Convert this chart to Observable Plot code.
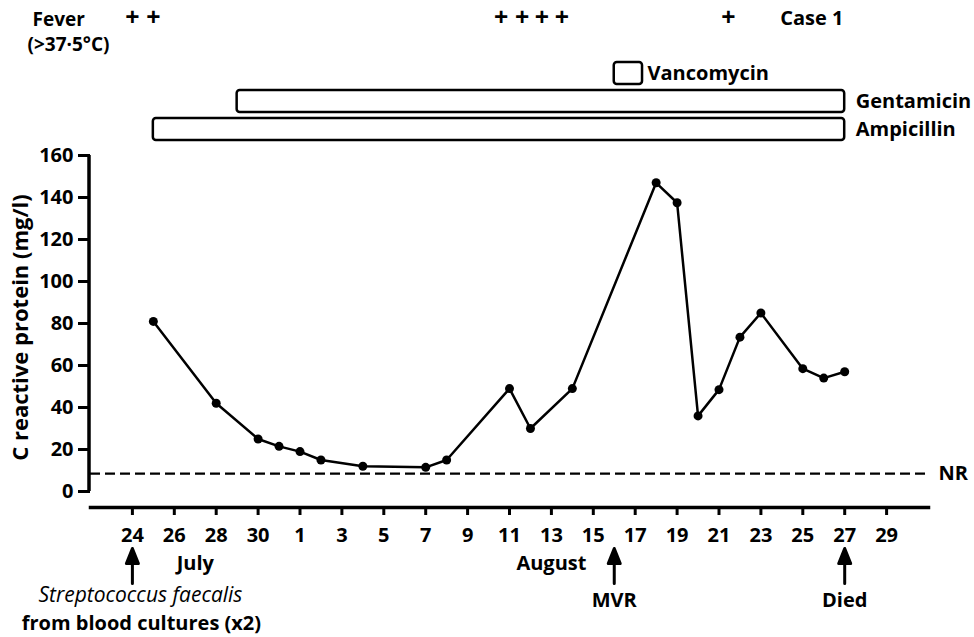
<!DOCTYPE html>
<html><head><meta charset="utf-8">
<script src="https://cdn.jsdelivr.net/npm/d3@7"></script>
<script src="https://cdn.jsdelivr.net/npm/@observablehq/plot@0.6"></script>
<style>body{margin:0;background:#fff} #chart svg{display:block;overflow:visible}</style>
</head><body><div id="chart"></div>
<script>
// Day numbers: July n = n, August n = 31 + n
const crpDay   = [25, 28, 30, 31, 32, 33, 35, 38, 39, 42, 43, 45, 49, 50, 51, 52, 53, 54, 56, 57, 58];
const crpValue = [81, 42, 25, 21.5, 19, 15, 12, 11.5, 15, 49, 30, 49, 147, 137.5, 36, 48.5, 73.5, 85, 58.5, 54, 57];
const normalLimit = 8.5;
const yTicks = [0, 20, 40, 60, 80, 100, 120, 140, 160];
const tickDays   = [24, 26, 28, 30, 32, 34, 36, 38, 40, 42, 44, 46, 48, 50, 52, 54, 56, 58, 60];
const tickLabels = ["24","26","28","30","1","3","5","7","9","11","13","15","17","19","21","23","25","27","29"];
const monthNames = ["July", "August"];
const monthDay   = [27, 44];
const drugNames = ["Vancomycin", "Gentamicin", "Ampicillin"];
const drugStart = [47, 29, 25];
const drugEnd   = [48.35, 58, 58];
const feverDays = [24, 25, 41.6, 42.6, 43.55, 44.5, 52.45];
const eventDays = [24, 47, 58];
const eventLabels = ["", "MVR", "Died"];
const organism = "Streptococcus faecalis";
const organismNote = "from blood cultures (x2)";

const xDomain = [22, 62];
const font = "'Open Sans', 'DejaVu Sans', sans-serif";
const common = {
  width: 974, marginLeft: 90, marginRight: 46,
  style: {fontFamily: font, fontSize: "20px", fontWeight: "bold", color: "black", background: "white", overflow: "visible"}
};

const lanes = ["Fever", " ", ...drugNames];
const drugs = drugNames.map((name, i) => ({name, start: drugStart[i], end: drugEnd[i]}));

const topPlot = Plot.plot({
  ...common, height: 141, marginTop: 0, marginBottom: 0,
  x: {domain: xDomain, axis: null},
  y: {type: "band", domain: lanes, range: [3, 143], paddingInner: 0.2, paddingOuter: 0.1, axis: null},
  marks: [
    Plot.barX(drugs, {x1: "start", x2: "end", y: "name", fill: "white", stroke: "black", strokeWidth: 2.5, rx: 3}),
    Plot.text(drugs.filter(d => d.name === "Vancomycin"), {x: "end", y: "name", text: "name", textAnchor: "start", dx: 5}),
    Plot.text(drugs.filter(d => d.name !== "Vancomycin"), {x: "end", y: "name", text: "name", textAnchor: "start", dx: 11}),
    Plot.text(feverDays, {x: d => d, y: () => "Fever", text: () => "+", fontSize: 25}),
    Plot.text(["Fever"], {y: () => "Fever", frameAnchor: "left", text: d => d, textAnchor: "start", lineAnchor: "middle", dx: -58, dy: 2, fontSize: 19}),
    Plot.text(["(>37·5°C)"], {y: () => "Fever", frameAnchor: "left", text: d => d, textAnchor: "start", lineAnchor: "middle", dx: -63, dy: 27, fontSize: 19}),
    Plot.text(["Case 1"], {y: () => "Fever", frameAnchor: "right", text: d => d, textAnchor: "end", lineAnchor: "middle", dx: -85, dy: 1})
  ]
});

const crp = crpDay.map((d, i) => ({day: d, value: crpValue[i]}));
const arrowShape = {
  draw(context, l) {
    context.moveTo(0, 0);
    context.lineTo(0, -l + 10);
    context.moveTo(-6, -l + 15);
    context.lineTo(0, -l);
    context.lineTo(6, -l + 15);
    context.closePath();
  }
};
const events = eventDays.map((d, i) => ({day: d, label: eventLabels[i]}));

const mainPlot = Plot.plot({
  ...common, height: 496, marginTop: 6, marginBottom: 130,
  x: {domain: xDomain},
  y: {domain: [0, 160], range: [350, 14]},
  marks: [
    Plot.ruleY([normalLimit], {strokeDasharray: "10,5", strokeWidth: 2.2}),
    Plot.text(["NR"], {x: () => xDomain[1], y: () => normalLimit, text: d => d, textAnchor: "start", dx: 10}),
    Plot.ruleX([xDomain[0]], {y1: 0, y2: 160, strokeWidth: 3.5, dx: -1.5}),
    Plot.axisY({ticks: yTicks, tickSize: 12, tickPadding: 5, strokeWidth: 3, label: null}),
    Plot.frame({anchor: "bottom", strokeWidth: 3.5}),
    Plot.axisX({ticks: tickDays, tickFormat: d => tickLabels[tickDays.indexOf(d)], tickSize: 8, tickPadding: 12, strokeWidth: 3, label: null}),
    Plot.text(monthNames, {x: (d, i) => monthDay[i], frameAnchor: "bottom", lineAnchor: "middle", dy: 56, text: d => d}),
    Plot.vector(events, {x: "day", frameAnchor: "bottom", dy: 76, length: 35, rotate: 0, anchor: "start", shape: arrowShape, stroke: "black", fill: "black", strokeWidth: 3}),
    Plot.text(events, {x: "day", frameAnchor: "bottom", lineAnchor: "middle", dy: 93, text: "label"}),
    Plot.text([organism], {x: () => eventDays[0], frameAnchor: "bottom", lineAnchor: "middle", textAnchor: "middle", dy: 88, dx: 8, text: d => d, fontStyle: "italic", fontWeight: "normal", fontSize: 21}),
    Plot.text([organismNote], {x: () => eventDays[0], frameAnchor: "bottom", lineAnchor: "middle", textAnchor: "middle", dy: 116, dx: 9, text: d => d, fontSize: 20}),
    Plot.line(crp, {x: "day", y: "value", strokeWidth: 2.5}),
    Plot.dot(crp, {x: "day", y: "value", r: 4.5, fill: "black"}),
    Plot.text(["C reactive protein (mg/l)"], {frameAnchor: "left", textAnchor: "middle", lineAnchor: "middle", rotate: -90, dx: -70, dy: 0, text: d => d, fontSize: 22})
  ]
});

const chart = document.getElementById("chart");
chart.appendChild(topPlot);
chart.appendChild(mainPlot);
</script>
</body></html>
